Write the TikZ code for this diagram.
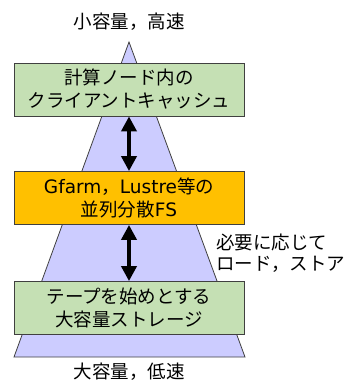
\documentclass[tikz,border=0pt]{standalone}
\usepackage{fontspec}
\setmainfont{Noto Sans CJK JP}
\newfontfamily\lat{DejaVu Sans}
\usetikzlibrary{arrows.meta}
\definecolor{lav}{RGB}{204,204,255}
\definecolor{grn}{RGB}{197,224,180}
\definecolor{org}{RGB}{255,192,0}
\tikzset{
  layer/.style={draw=black!75, line width=0.8pt, minimum width=230pt, minimum height=53pt, align=center, inner sep=0pt, font=\fontsize{18.5}{23}\selectfont},
  lbl/.style={font=\fontsize{18.5}{21}\selectfont, inner sep=0pt},
  bigarrow/.style={line width=4pt, {Triangle[width=15pt,length=15pt]}-{Triangle[width=15pt,length=15pt]}}
}
\begin{document}
\begin{tikzpicture}[x=1pt,y=-1pt]
\useasboundingbox (0,0) rectangle (350,383);
\coordinate (apex) at (129,42);
\coordinate (bl) at (14,357);
\coordinate (br) at (245,357);
\fill[lav] (apex) -- (bl) -- (br) -- cycle;
\draw[black!75, line width=0.8pt] (apex) -- (bl) -- (br) -- cycle;
\node[lbl] (top) at (129,22) {小容量，高速};
\node[lbl] (bot) at (129,372) {大容量，低速};
\node[layer, fill=grn] (b1) at (129,89.5) {計算ノード内の\\クライアントキャッシュ};
\node[layer, fill=org] (b2) at (129,198) {{\lat Gfarm}，{\lat Lustre}等の\\並列分散{\lat FS}};
\node[layer, fill=grn] (b3) at (129,308) {テープを始めとする\\大容量ストレージ};
\draw[bigarrow] (b1) -- (b2);
\draw[bigarrow] (b2) -- (b3);
\node[lbl, anchor=west, align=left, font=\fontsize{18.5}{21}\selectfont] (side) at (216,253) {必要に応じて\\ロード，ストア};
\end{tikzpicture}
\end{document}
